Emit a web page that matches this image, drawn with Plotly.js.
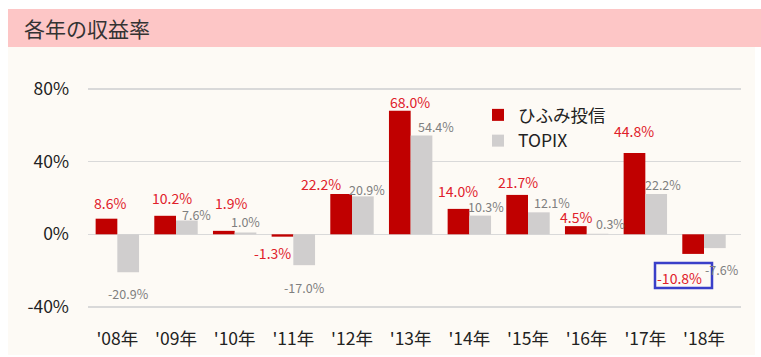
<!DOCTYPE html>
<html><head><meta charset="utf-8">
<script src="https://cdn.plot.ly/plotly-3.0.1.min.js"></script>
<style>html,body{margin:0;padding:0;background:#fff}#chart{width:761px;height:357px}</style>
</head><body><div id="chart"></div>
<script>
const categories = ["'08年","'09年","'10年","'11年","'12年","'13年","'14年","'15年","'16年","'17年","'18年"];
const hifumi = [8.6, 10.2, 1.9, -1.3, 22.2, 68.0, 14.0, 21.7, 4.5, 44.8, -10.8];
const topix = [-20.9, 7.6, 1.0, -17.0, 20.9, 54.4, 10.3, 12.1, 0.3, 22.2, -7.6];
const yTicks = [-40, 0, 40, 80];
const yTickLabels = ["-40%", "0%", "40%", "80%"];
const seriesNames = ["ひふみ投信", "TOPIX"];
const titleText = "各年の収益率";

// label offsets (px) relative to bar centre / bar end
const redOff = [[4,-16],[7,-18],[7,-28],[-10,16],[-20,-10],[10,-9],[0,-18],[1,-13],[0,-9],[0,-22],[-14,24]];
const greyOff = [[0,21],[9,-6],[0,-11],[0,22],[4,-7],[14,-9],[6,-9],[13,-10],[13,-10],[7,-10],[7,21]];

const W = 761, H = 357;
const M = {l: 88, r: 20, t: 88, b: 49};
const pw = W - M.l - M.r, ph = H - M.t - M.b;
const px = p => (p - M.l) / pw;
const py = p => (H - M.b - p) / ph;
const FONT = '"Noto Sans CJK JP", "Noto Sans", sans-serif';

const fmt = v => v.toFixed(1) + '%';
const annotations = [];
categories.forEach((c, i) => {
  annotations.push({x: c, y: hifumi[i], xref: 'x', yref: 'y', text: fmt(hifumi[i]), showarrow: false,
    xshift: -11 + redOff[i][0], yshift: -redOff[i][1], font: {family: FONT, size: 14, color: '#e0202a'}});
  annotations.push({x: c, y: topix[i], xref: 'x', yref: 'y', text: fmt(topix[i]), showarrow: false,
    xshift: 11 + greyOff[i][0], yshift: -greyOff[i][1], font: {family: FONT, size: 12.5, color: '#7f7f7f'}});
});
annotations.push({xref: 'paper', yref: 'paper', x: px(22), y: py(28), xanchor: 'left', yanchor: 'middle',
  text: titleText, showarrow: false, font: {family: FONT, size: 21, color: '#333333'}});

const shapes = [
  {type: 'rect', xref: 'paper', yref: 'paper', x0: px(8), x1: px(761), y0: py(47), y1: py(9),
   fillcolor: '#fdc6c6', line: {width: 0}, layer: 'below'},
  {type: 'rect', xref: 'paper', yref: 'paper', x0: px(8), x1: px(755), y0: py(355), y1: py(47),
   fillcolor: '#fdfaf5', line: {width: 0}, layer: 'below'},
  // highlight box around the last fund label
  {type: 'rect', xref: 'paper', yref: 'paper', x0: px(655), x1: px(712), y0: py(288), y1: py(263),
   fillcolor: 'rgba(0,0,0,0)', line: {color: '#3a3fc9', width: 2.5}, layer: 'above'}
];

const traces = [
  {type: 'bar', name: seriesNames[0], x: categories, y: hifumi, marker: {color: '#c00000'}, hoverinfo: 'skip'},
  {type: 'bar', name: seriesNames[1], x: categories, y: topix, marker: {color: '#d0cece'}, hoverinfo: 'skip'}
];

const layout = {
  width: W, height: H,
  margin: M,
  paper_bgcolor: '#ffffff',
  plot_bgcolor: 'rgba(0,0,0,0)',
  barmode: 'group', bargap: 0.26, bargroupgap: 0,
  font: {family: FONT, color: '#222222'},
  showlegend: true,
  legend: {x: px(478), y: py(97), xanchor: 'left', yanchor: 'top', bgcolor: 'rgba(0,0,0,0)',
    font: {family: FONT, size: 17.5, color: '#222222'}, tracegroupgap: 0, itemwidth: 30},
  xaxis: {type: 'category', showgrid: false, zeroline: false, showline: false, ticks: '',
    tickfont: {family: FONT, size: 17.5, color: '#222222'}, ticklabelstandoff: 18},
  yaxis: {range: [-40.6, 80.6], tickvals: yTicks, ticktext: yTickLabels, showgrid: true, gridcolor: '#d9d9d9', gridwidth: 1.5,
    zeroline: true, zerolinecolor: '#d9d9d9', zerolinewidth: 1.5, showline: false, ticks: '',
    tickfont: {family: FONT, size: 17.5, color: '#222222'}, ticklabelstandoff: 18},
  shapes: shapes,
  annotations: annotations
};

Plotly.newPlot('chart', traces, layout, {displayModeBar: false, staticPlot: true});
</script></body></html>
